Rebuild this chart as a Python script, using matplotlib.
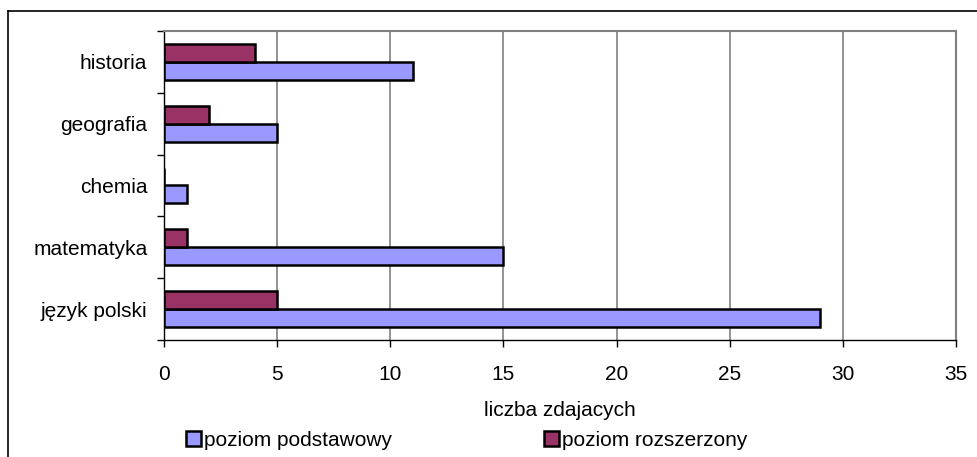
import matplotlib.pyplot as plt
import numpy as np
from matplotlib.lines import Line2D

plt.rcParams["font.family"] = ["Liberation Sans", "DejaVu Sans"]

# Data (bottom to top)
subjects = ["język polski", "matematyka", "chemia", "geografia", "historia"]
podstawowy = [29, 15, 1, 5, 11]
rozszerzony = [5, 1, 0, 2, 4]
x_ticks = [0, 5, 10, 15, 20, 25, 30, 35]

BLUE = "#9999FF"
PLUM = "#993366"
GRID = "#808080"
FS = 15

fig = plt.figure(figsize=(9.78, 4.57), dpi=100)
ax = fig.add_axes([164 / 978, 1 - 340 / 457, (956 - 164) / 978, (340 - 31) / 457])

y = np.arange(len(subjects))
h = 0.29
ax.barh(y - h / 2, podstawowy, height=h, color=BLUE, edgecolor="black", linewidth=1.8,
        label="poziom podstawowy", zorder=3)
ax.barh(y + h / 2, rozszerzony, height=h, color=PLUM, edgecolor="black", linewidth=1.8,
        label="poziom rozszerzony", zorder=3)

ax.set_xlim(0, 35)
ax.set_ylim(-0.5, len(subjects) - 0.5)
ax.set_xticks(x_ticks)
ax.set_xticklabels([str(t) for t in x_ticks], fontsize=FS)
ax.xaxis.grid(True, color=GRID, linewidth=1.2, zorder=0)

# category boundaries as major ticks, names at minor ticks
ax.set_yticks(np.arange(-0.5, len(subjects), 1.0))
ax.set_yticklabels([])
ax.set_yticks(y, minor=True)
ax.set_yticklabels(subjects, minor=True, fontsize=FS)
ax.tick_params(axis="y", which="minor", length=0, pad=12)
ax.tick_params(axis="y", which="major", length=5, width=1, direction="out")
ax.tick_params(axis="x", length=5, width=1, direction="out", pad=13)

for side in ["top", "right"]:
    ax.spines[side].set_color(GRID)
    ax.spines[side].set_linewidth(1.5)
for side in ["left", "bottom"]:
    ax.spines[side].set_color("black")
    ax.spines[side].set_linewidth(1)

ax.set_xlabel("liczba zdajacych", fontsize=FS, labelpad=12)

handles, labels = ax.get_legend_handles_labels()
leg = fig.legend(handles, labels, loc="center left", bbox_to_anchor=(178 / 978, 1 - 440 / 457),
                 ncol=2, frameon=False, fontsize=FS, handlelength=0.7, handleheight=0.7,
                 handletextpad=0.15, columnspacing=7.3, borderaxespad=0)

# outer chart frame (right/bottom edges fall outside the picture)
fig.add_artist(Line2D([8 / 978, 8 / 978], [0, 1 - 11 / 457], color="black", linewidth=1.2,
                      transform=fig.transFigure))
fig.add_artist(Line2D([8 / 978, 1], [1 - 11 / 457, 1 - 11 / 457], color="black", linewidth=1.2,
                      transform=fig.transFigure))

fig.savefig("out.png", dpi=100)
